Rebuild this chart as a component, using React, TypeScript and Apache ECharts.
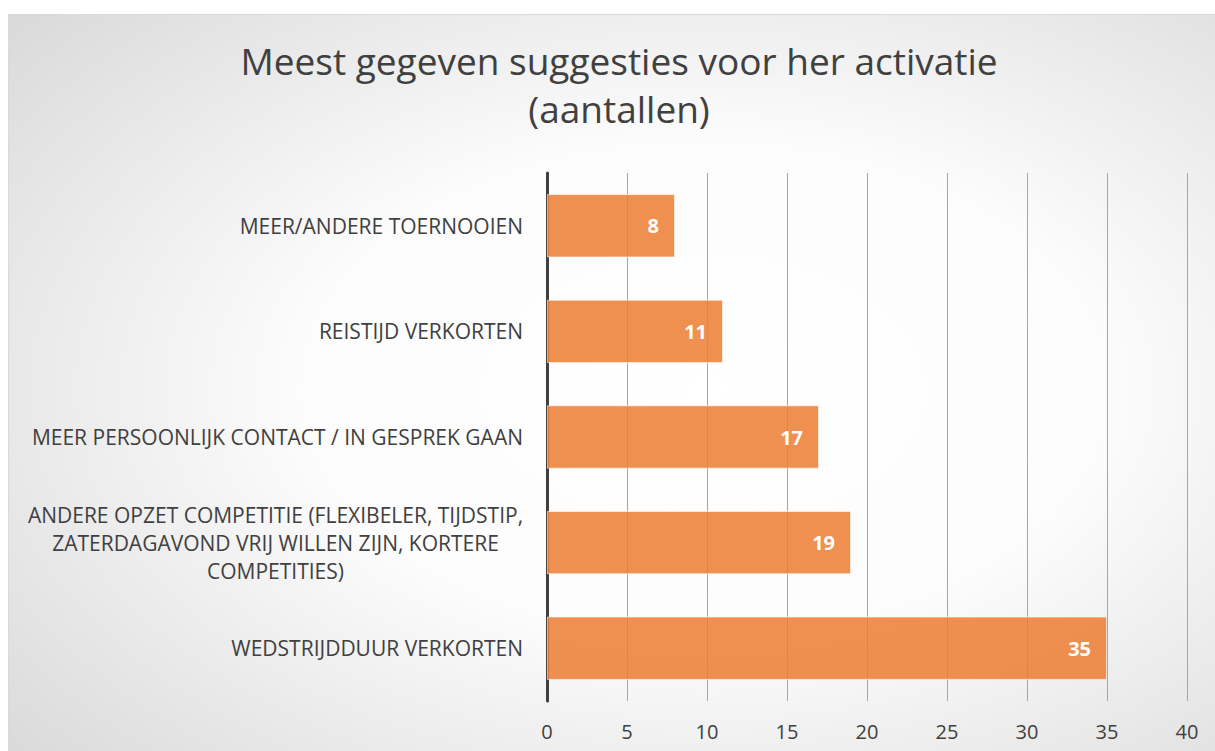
import React, { useEffect, useRef } from "react";
import * as echarts from "echarts";

const categories = [
  "WEDSTRIJDDUUR VERKORTEN",
  "ANDERE OPZET COMPETITIE (FLEXIBELER, TIJDSTIP,\nZATERDAGAVOND VRIJ WILLEN ZIJN, KORTERE\nCOMPETITIES)",
  "MEER PERSOONLIJK CONTACT / IN GESPREK GAAN",
  "REISTIJD VERKORTEN",
  "MEER/ANDERE TOERNOOIEN",
];
const values = [35, 19, 17, 11, 8];
const titleText = "Meest gegeven suggesties voor her activatie\n(aantallen)";

export default function App() {
  const ref = useRef<HTMLDivElement>(null);
  useEffect(() => {
    document.documentElement.style.overflow = "hidden";
    document.body.style.overflow = "hidden";
    const chart = echarts.init(ref.current!, null, { renderer: "svg" });
    chart.setOption({
      animation: false,
      backgroundColor: {
        type: "radial",
        x: 0.57,
        y: 0.5,
        r: 1.1,
        colorStops: [
          { offset: 0, color: "#ffffff" },
          { offset: 0.3, color: "#fcfcfc" },
          { offset: 1, color: "#bdbdbd" },
        ],
      },
      title: {
        text: titleText,
        left: "center",
        top: 16,
        textStyle: {
          fontFamily: "Open Sans",
          fontSize: 37,
          lineHeight: 48,
          fontWeight: "normal",
          color: "#404040",
        },
      },
      grid: { left: 538, top: 158, width: 640, height: 528, containLabel: false },
      xAxis: {
        type: "value",
        min: 0,
        max: 40,
        interval: 5,
        axisLine: { show: false },
        axisTick: { show: false },
        splitLine: { show: true, lineStyle: { color: "#a6a6a6", width: 1 } },
        axisLabel: { margin: 20, fontFamily: "Open Sans", fontSize: 20, color: "#404040" },
      },
      yAxis: {
        type: "category",
        data: categories,
        axisLine: { show: true, lineStyle: { color: "#404040", width: 3 } },
        axisTick: { show: false },
        axisLabel: {
          margin: 24,
          fontFamily: "Open Sans",
          fontSize: 21,
          color: "#404040",
          lineHeight: 28,
          formatter: (v: string) => {
            if (v.indexOf("\n") < 0) return v;
            return v
              .split("\n")
              .map((l) => "{c|" + l + "}")
              .join("\n");
          },
          rich: {
            c: {
              width: 495,
              align: "center",
              fontFamily: "Open Sans",
              fontSize: 21,
              color: "#404040",
              lineHeight: 28,
            },
          },
        },
      },
      series: [
        {
          type: "bar",
          data: values,
          barCategoryGap: "40%",
          itemStyle: {
            color: "rgba(237,125,49,0.85)",
            borderColor: "rgba(255,255,255,0.6)",
            borderWidth: 1,
          },
          label: {
            show: true,
            position: "insideRight",
            distance: 16,
            color: "#ffffff",
            fontFamily: "Open Sans",
            fontWeight: "bold",
            fontSize: 20,
          },
        },
      ],
    });
    return () => chart.dispose();
  }, []);
  return (
    <div
      ref={ref}
      style={{
        position: "absolute",
        left: 8,
        top: 14,
        width: 1222,
        height: 750,
        border: "1px solid #d9d9d9",
        boxSizing: "border-box",
      }}
    />
  );
}
